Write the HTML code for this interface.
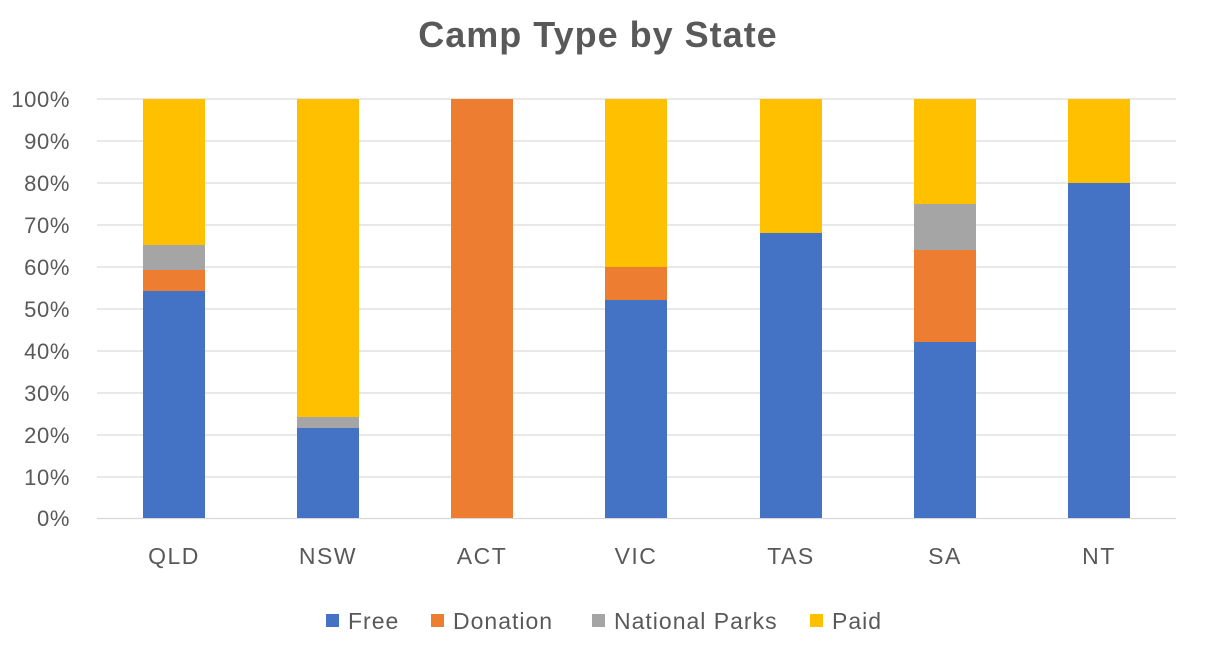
<!DOCTYPE html>
<html><head><meta charset="utf-8"><style>
html,body{margin:0;padding:0;background:#fff;}
svg{display:block;font-family:"Liberation Sans",sans-serif;}
</style></head><body>
<svg width="1206" height="646" viewBox="0 0 1206 646">
<rect width="1206" height="646" fill="#fff"/>
<text x="598" y="47" text-anchor="middle" font-size="36" font-weight="bold" fill="#595959" letter-spacing="1">Camp Type by State</text>
<g stroke="#D9D9D9" stroke-width="1.3">
<line x1="97" x2="1176" y1="99" y2="99"/><line x1="97" x2="1176" y1="141" y2="141"/>
<line x1="97" x2="1176" y1="183" y2="183"/><line x1="97" x2="1176" y1="225" y2="225"/>
<line x1="97" x2="1176" y1="267" y2="267"/><line x1="97" x2="1176" y1="309" y2="309"/>
<line x1="97" x2="1176" y1="351" y2="351"/><line x1="97" x2="1176" y1="393" y2="393"/>
<line x1="97" x2="1176" y1="435" y2="435"/><line x1="97" x2="1176" y1="477" y2="477"/>
<line x1="97" x2="1176" y1="518.5" y2="518.5"/>
</g>
<g font-size="22" fill="#595959" text-anchor="end" letter-spacing="0.6">
<text x="70" y="107">100%</text><text x="70" y="149">90%</text><text x="70" y="191">80%</text>
<text x="70" y="233">70%</text><text x="70" y="275">60%</text><text x="70" y="317">50%</text>
<text x="70" y="359">40%</text><text x="70" y="401">30%</text><text x="70" y="443">20%</text>
<text x="70" y="485">10%</text><text x="70" y="526">0%</text>
</g>
<rect x="143" y="99" width="62" height="146" fill="#FFC000"/>
<rect x="143" y="245" width="62" height="25" fill="#A5A5A5"/>
<rect x="143" y="270" width="62" height="21" fill="#ED7D31"/>
<rect x="143" y="291" width="62" height="227" fill="#4472C4"/>
<rect x="297" y="99" width="62" height="318" fill="#FFC000"/>
<rect x="297" y="417" width="62" height="11" fill="#A5A5A5"/>
<rect x="297" y="428" width="62" height="90" fill="#4472C4"/>
<rect x="451" y="99" width="62" height="419" fill="#ED7D31"/>
<rect x="605" y="99" width="62" height="168" fill="#FFC000"/>
<rect x="605" y="267" width="62" height="33" fill="#ED7D31"/>
<rect x="605" y="300" width="62" height="218" fill="#4472C4"/>
<rect x="760" y="99" width="62" height="134" fill="#FFC000"/>
<rect x="760" y="233" width="62" height="285" fill="#4472C4"/>
<rect x="914" y="99" width="62" height="105" fill="#FFC000"/>
<rect x="914" y="204" width="62" height="46" fill="#A5A5A5"/>
<rect x="914" y="250" width="62" height="92" fill="#ED7D31"/>
<rect x="914" y="342" width="62" height="176" fill="#4472C4"/>
<rect x="1068" y="99" width="62" height="84" fill="#FFC000"/>
<rect x="1068" y="183" width="62" height="335" fill="#4472C4"/>
<g font-size="23" fill="#595959" text-anchor="middle" letter-spacing="1.5">
<text x="174" y="564">QLD</text><text x="328" y="564">NSW</text><text x="482" y="564">ACT</text>
<text x="636" y="564">VIC</text><text x="791" y="564">TAS</text><text x="945" y="564">SA</text>
<text x="1099" y="564">NT</text>
</g>
<g font-size="23" fill="#595959" letter-spacing="1">
<rect x="326" y="614" width="13" height="13" fill="#4472C4"/><text x="348" y="629">Free</text>
<rect x="431" y="614" width="13" height="13" fill="#ED7D31"/><text x="453" y="629">Donation</text>
<rect x="592" y="614" width="13" height="13" fill="#A5A5A5"/><text x="614" y="629">National Parks</text>
<rect x="810" y="614" width="13" height="13" fill="#FFC000"/><text x="832" y="629">Paid</text>
</g>
</svg>
</body></html>
